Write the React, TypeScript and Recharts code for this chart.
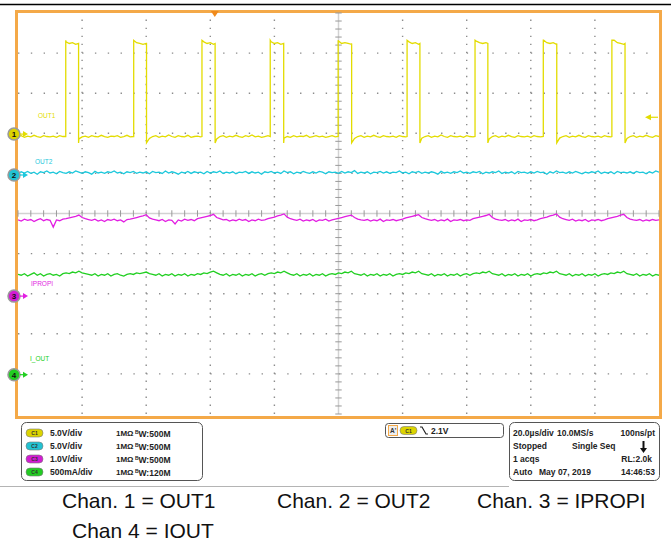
import { Line, LineChart, ReferenceDot, ReferenceLine, XAxis, YAxis } from "recharts";

// screen: 10 div x 10 div, 20 us/div
const xMajor = [0, 20, 40, 60, 80, 100, 120, 140, 160, 180, 200];
const yMajor = [-5, -4, -3, -2, -1, 0, 1, 2, 3, 4, 5];
const xMinor = Array.from({ length: 51 }, (_, i) => i * 4);
const yMinor = Array.from({ length: 51 }, (_, i) => -5 + i * 0.2);

const SAMPLE_US = 1;

// OUT1 pulse edges (us from left edge of screen)
const out1Rise = [14.9, 36.1, 57.4, 78.7, 99.9, 121.4, 142.6, 163.9, 185.3];
const out1Fall = [18.9, 40.1, 61.5, 82.9, 104.1, 125.4, 146.6, 168.1, 189.4];
const OUT1_LOW = -0.3;
const OUT1_PEAK = 11.7;
const OUT1_TOP = 11.3;
const OUT1_DIP = -1.1;

// sampled traces, 1 us apart (V, V, V, A)
const out1 = [
  -0.3, -0.2, -0.4, -0.25, -0.35, -0.15, -0.3, -0.4, -0.2, -0.3,
  -0.35, -0.25, -0.4, -0.2, -0.3, 11.5, 11.3, 11.4, 11.2, -0.6,
  -0.35, -0.25, -0.4, -0.2, -0.3, -0.35, -0.15, -0.3, -0.4, -0.25,
  -0.3, -0.2, -0.4, -0.3, -0.15, -0.35, -0.3, 11.4, 11.3, 11.2,
  11.3, -0.55, -0.3, -0.2, -0.4, -0.25, -0.35, -0.1, -0.3, -0.4,
  -0.2, -0.3, -0.35, -0.15, -0.4, -0.3, -0.25, -0.35, 11.5, 11.3,
  11.4, 11.2, -0.6, -0.3, -0.2, -0.4, -0.25, -0.35, -0.15, -0.3,
  -0.4, -0.2, -0.3, -0.1, -0.35, -0.25, -0.4, -0.3, -0.2, 11.5,
  11.3, 11.4, 11.2, -0.5, -0.3, -0.4, -0.2, -0.35, -0.25, -0.3,
  -0.15, -0.4, -0.3, -0.2, -0.35, -0.25, -0.4, -0.3, -0.2, -0.35,
  11.6, 11.3, 11.4, 11.3, 11.2, -0.55, -0.3, -0.2, -0.4, -0.25,
  -0.35, -0.15, -0.3, -0.4, -0.2, -0.3, -0.35, -0.25, -0.4, -0.2,
  -0.3, -0.35, 11.5, 11.3, 11.4, 11.2, -0.5, -0.3, -0.2, -0.4,
  -0.25, -0.35, -0.1, -0.3, -0.4, -0.2, -0.3, -0.35, -0.25, -0.4,
  -0.2, -0.3, -0.35, 11.6, 11.4, 11.3, 11.4, -0.6, -0.3, -0.2,
  -0.4, -0.25, -0.35, -0.15, -0.3, -0.4, -0.2, -0.3, -0.35, -0.25,
  -0.4, -0.2, -0.3, -0.35, 11.7, 11.4, 11.3, 11.4, 11.2, -0.5,
  -0.3, -0.2, -0.4, -0.25, -0.35, -0.15, -0.3, -0.4, -0.2, -0.3,
  -0.35, -0.25, -0.4, -0.2, -0.3, -0.35, 11.7, 11.4, 11.3, 11.2,
  -0.55, -0.3, -0.2, -0.4, -0.25, -0.35, -0.15, -0.3, -0.4, -0.2, -0.3,
];

const out2 = [
  0.15, 0.4, 0.25, 0.45, 0.2, 0.35, 0.1, 0.4, 0.3, 0.5,
  0.25, 0.35, 0.15, 0.45, 0.3, 0.2, 0.4, 0.25, 0.5, 0.35,
  0.2, 0.4, 0.3, 0.1, 0.45, 0.25, 0.35, 0.2, 0.4, 0.3,
  0.5, 0.25, 0.35, 0.15, 0.4, 0.3, 0.45, 0.2, 0.35, 0.25,
  0.4, 0.15, 0.45, 0.3, 0.35, 0.2, 0.5, 0.25, 0.4, 0.3,
  0.1, 0.35, 0.25, 0.45, 0.2, 0.4, 0.3, 0.35, 0.15, 0.45,
  0.25, 0.4, 0.3, 0.5, 0.2, 0.35, 0.25, 0.4, 0.15, 0.35,
  0.3, 0.45, 0.2, 0.4, 0.25, 0.35, 0.1, 0.4, 0.3, 0.45,
  0.25, 0.35, 0.2, 0.5, 0.3, 0.4, 0.15, 0.35, 0.25, 0.45,
  0.3, 0.2, 0.4, 0.25, 0.45, 0.35, 0.15, 0.4, 0.3, 0.35,
  0.2, 0.45, 0.25, 0.4, 0.3, 0.55, 0.2, 0.35, 0.25, 0.4,
  0.15, 0.35, 0.3, 0.45, 0.25, 0.4, 0.2, 0.35, 0.3, 0.5,
  0.25, 0.35, 0.15, 0.4, 0.3, 0.45, 0.2, 0.35, 0.25, 0.4,
  0.3, 0.1, 0.45, 0.25, 0.35, 0.2, 0.4, 0.3, 0.5, 0.25,
  0.35, 0.2, 0.4, 0.3, 0.45, 0.15, 0.35, 0.25, 0.4, 0.3,
  0.5, 0.2, 0.35, 0.25, 0.4, 0.15, 0.45, 0.3, 0.35, 0.2,
  0.4, 0.25, 0.45, 0.3, 0.35, 0.1, 0.4, 0.25, 0.5, 0.3,
  0.35, 0.2, 0.4, 0.25, 0.45, 0.3, 0.15, 0.35, 0.25, 0.4,
  0.3, 0.5, 0.2, 0.35, 0.25, 0.4, 0.15, 0.45, 0.3, 0.35,
  0.25, 0.4, 0.2, 0.45, 0.3, 0.35, 0.15, 0.4, 0.25, 0.5, 0.35,
];

const ipropi = [
  1.9, 1.87, 1.92, 1.89, 1.91, 1.86, 1.9, 1.93, 1.88, 1.91,
  1.89, 1.72, 1.9, 1.88, 1.92, 1.93, 1.95, 1.97, 1.99, 2.02,
  1.96, 1.93, 1.91, 1.89, 1.92, 1.87, 1.9, 1.86, 1.91, 1.89,
  1.92, 1.88, 1.9, 1.85, 1.91, 1.92, 1.94, 1.96, 1.98, 2.0,
  2.03, 1.95, 1.92, 1.9, 1.88, 1.91, 1.86, 1.9, 1.89, 1.8,
  1.9, 1.87, 1.92, 1.89, 1.91, 1.88, 1.93, 1.95, 1.97, 1.99,
  2.01, 2.04, 1.96, 1.93, 1.9, 1.91, 1.87, 1.9, 1.88, 1.92,
  1.89, 1.91, 1.86, 1.9, 1.88, 1.92, 1.89, 1.9, 1.93, 1.95,
  1.97, 2.0, 2.02, 2.05, 1.97, 1.93, 1.91, 1.89, 1.92, 1.87,
  1.9, 1.88, 1.91, 1.86, 1.9, 1.89, 1.92, 1.87, 1.9, 1.92,
  1.94, 1.96, 1.98, 2.0, 2.02, 1.96, 1.92, 1.9, 1.89, 1.91,
  1.87, 1.9, 1.88, 1.92, 1.86, 1.9, 1.89, 1.91, 1.88, 1.9,
  1.92, 1.95, 1.97, 1.99, 2.01, 2.03, 1.96, 1.93, 1.91, 1.89,
  1.91, 1.87, 1.9, 1.88, 1.92, 1.86, 1.9, 1.89, 1.91, 1.88,
  1.9, 1.89, 1.93, 1.95, 1.97, 1.99, 2.01, 2.04, 1.96, 1.92,
  1.9, 1.89, 1.91, 1.87, 1.9, 1.88, 1.92, 1.86, 1.9, 1.89,
  1.91, 1.88, 1.9, 1.93, 1.95, 1.97, 2.0, 2.02, 2.05, 1.97,
  1.93, 1.91, 1.89, 1.92, 1.87, 1.9, 1.88, 1.91, 1.86, 1.9,
  1.89, 1.91, 1.88, 1.9, 1.93, 1.95, 1.97, 1.99, 2.02, 2.04,
  1.96, 1.92, 1.9, 1.89, 1.91, 1.87, 1.9, 1.88, 1.91, 1.89, 1.9,
];

const iout = [
  1.25, 1.24, 1.26, 1.23, 1.25, 1.27, 1.24, 1.26, 1.23, 1.25,
  1.26, 1.24, 1.25, 1.23, 1.26, 1.27, 1.26, 1.28, 1.27, 1.29,
  1.27, 1.26, 1.25, 1.24, 1.26, 1.23, 1.25, 1.24, 1.26, 1.23,
  1.25, 1.26, 1.24, 1.23, 1.25, 1.26, 1.25, 1.27, 1.26, 1.27,
  1.28, 1.26, 1.25, 1.24, 1.26, 1.23, 1.25, 1.24, 1.26, 1.23,
  1.25, 1.24, 1.26, 1.23, 1.25, 1.24, 1.26, 1.25, 1.27, 1.26,
  1.28, 1.29, 1.27, 1.25, 1.24, 1.26, 1.23, 1.25, 1.24, 1.26,
  1.23, 1.25, 1.24, 1.26, 1.23, 1.25, 1.26, 1.24, 1.26, 1.27,
  1.26, 1.28, 1.27, 1.29, 1.27, 1.25, 1.24, 1.26, 1.23, 1.25,
  1.24, 1.26, 1.23, 1.25, 1.24, 1.26, 1.23, 1.25, 1.26, 1.25,
  1.27, 1.26, 1.28, 1.27, 1.29, 1.26, 1.25, 1.24, 1.26, 1.23,
  1.25, 1.24, 1.26, 1.23, 1.25, 1.24, 1.26, 1.23, 1.25, 1.26,
  1.25, 1.27, 1.26, 1.28, 1.27, 1.29, 1.26, 1.25, 1.24, 1.26,
  1.23, 1.25, 1.24, 1.26, 1.23, 1.25, 1.24, 1.26, 1.23, 1.25,
  1.26, 1.24, 1.26, 1.27, 1.26, 1.28, 1.27, 1.29, 1.26, 1.25,
  1.24, 1.26, 1.23, 1.25, 1.24, 1.26, 1.23, 1.25, 1.24, 1.26,
  1.23, 1.25, 1.26, 1.25, 1.27, 1.26, 1.28, 1.27, 1.29, 1.26,
  1.25, 1.24, 1.26, 1.23, 1.25, 1.24, 1.26, 1.23, 1.25, 1.24,
  1.26, 1.23, 1.25, 1.26, 1.25, 1.27, 1.26, 1.28, 1.27, 1.29,
  1.26, 1.25, 1.24, 1.26, 1.23, 1.25, 1.24, 1.26, 1.23, 1.25, 1.24,
];

// scope channel setup (offset in divisions from center)
const channels = [
  { id: 1, name: "OUT1", color: "#e3dc00", pill: "#dcd400", scale: 5, scaleText: "5.0V/div", bw: "500M", offset: 1.98, lx: 20, ly: -16 },
  { id: 2, name: "OUT2", color: "#1cc8dc", pill: "#22c2d2", scale: 5, scaleText: "5.0V/div", bw: "500M", offset: 0.96, lx: 17, ly: -11 },
  { id: 3, name: "IPROPI", color: "#e21ee2", pill: "#d21cd2", scale: 1, scaleText: "1.0V/div", bw: "500M", offset: -2.06, lx: 13, ly: -10 },
  { id: 4, name: "I_OUT", color: "#22cf22", pill: "#22cc22", scale: 0.5, scaleText: "500mA/div", bw: "120M", offset: -4.02, lx: 12, ly: -14 },
];

const TRIGGER_T = 61.4;
const TRIGGER_LEVEL = 2.1;

// acquisition box: [text, x, anchor] per row
const acqRows = [
  [["20.0µs/div", 513, "start"], ["10.0MS/s", 557, "start"], ["100ns/pt", 655, "end"]],
  [["Stopped", 513, "start"], ["Single Seq", 572, "start"]],
  [["1 acqs", 513, "start"], ["RL:2.0k", 652, "end"]],
  [["Auto", 513, "start"], ["May 07, 2019", 539, "start"], ["14:46:53", 655, "end"]],
] as const;

const captions = [
  { text: "Chan. 1 = OUT1", x: 62, y: 508 },
  { text: "Chan. 2 = OUT2", x: 277, y: 508 },
  { text: "Chan. 3 = IPROPI", x: 477, y: 508 },
  { text: "Chan 4 = IOUT", x: 72, y: 538 },
];

const toPos = (v: number, ch: (typeof channels)[number]) => ch.offset + v / ch.scale;

const sampled = (vals: number[], ch: (typeof channels)[number]) =>
  vals.map((v, i) => ({ t: i * SAMPLE_US, pos: toPos(v, ch) }));

function out1Series() {
  const ch = channels[0];
  const pts = out1.map((v, i) => ({ t: i * SAMPLE_US, v }));
  out1Rise.forEach((r) => {
    pts.push({ t: r, v: OUT1_LOW }, { t: r, v: OUT1_PEAK });
  });
  out1Fall.forEach((f) => {
    pts.push({ t: f, v: OUT1_TOP }, { t: f, v: OUT1_DIP });
  });
  return pts.sort((a, b) => a.t - b.t).map((p) => ({ t: p.t, pos: toPos(p.v, ch) }));
}

const series = [
  out1Series(),
  sampled(out2, channels[1]),
  sampled(ipropi, channels[2]),
  sampled(iout, channels[3]),
];

const FONT = "'Liberation Sans', Arial, sans-serif";
const ORANGE = "#f4a948";
const GRID = "#8c8c8c";

function ChannelTag(props: any) {
  const { cx, cy, ch } = props;
  return (
    <g>
      <circle cx={cx - 4} cy={cy} r={6} fill={ch.pill} stroke="#9a9a9a" strokeWidth={1.5} />
      <text x={cx - 4} y={cy + 3} textAnchor="middle" fontSize={8} fontWeight={700} fontFamily={FONT} fill="#111">
        {ch.id}
      </text>
      <line x1={cx + 2} y1={cy} x2={cx + 6} y2={cy} stroke={ch.color} strokeWidth={1.2} />
      <path d={`M${cx + 5},${cy - 3} L${cx + 10},${cy} L${cx + 5},${cy + 3} Z`} fill={ch.color} />
      <text x={cx + ch.lx} y={cy + ch.ly} fontSize={6.5} fontFamily={FONT} fill={ch.color}>
        {ch.name}
      </text>
    </g>
  );
}

function LevelArrow(props: any) {
  const { cx, cy } = props;
  return (
    <g>
      <line x1={cx - 8} y1={cy} x2={cx - 1} y2={cy} stroke={channels[0].color} strokeWidth={1.2} />
      <path d={`M${cx - 14},${cy} L${cx - 8},${cy - 3} L${cx - 8},${cy + 3} Z`} fill={channels[0].color} />
    </g>
  );
}

function TriggerMark(props: any) {
  const { cx, cy } = props;
  return <path d={`M${cx - 4},${cy - 2} L${cx + 4},${cy - 2} L${cx},${cy + 4} Z`} fill="#f08a1c" />;
}

function Pill({ x, y, color, label }: { x: number; y: number; color: string; label: string }) {
  return (
    <g>
      <rect x={x} y={y - 4} width={17} height={8} rx={4} fill={color} stroke="#7a7a7a" strokeWidth={0.6} />
      <text x={x + 8.5} y={y + 2} textAnchor="middle" fontSize={5} fontWeight={700} fontFamily={FONT} fill="#333">
        {label}
      </text>
    </g>
  );
}

function Overlay() {
  const rowY = [433, 446, 459, 472];
  const txt = { fontSize: 8.5, fontWeight: 700, fontFamily: FONT, fill: "#222" } as const;
  return (
    <svg width={671} height={544} style={{ position: "absolute", left: 0, top: 0, pointerEvents: "none" }}>
      <line x1={0} y1={4.5} x2={671} y2={4.5} stroke="#000" strokeWidth={1.6} />
      <line x1={0} y1={486.5} x2={509} y2={486.5} stroke="#b4b4b4" strokeWidth={1} />

      {/* channel settings */}
      <rect x={21.5} y={422.5} width={181} height={58} rx={5} fill="#fff" stroke="#555" strokeWidth={1} />
      {channels.map((ch, i) => (
        <g key={ch.id}>
          <Pill x={26} y={rowY[i]} color={ch.pill} label={"C" + ch.id} />
          <text x={50} y={rowY[i] + 3} {...txt}>
            {ch.scaleText}
          </text>
          <text x={116} y={rowY[i] + 3} {...txt} fontSize={8}>
            1MΩ
          </text>
          <text x={135} y={rowY[i] + 1} {...txt} fontSize={5}>
            B
          </text>
          <text x={138.5} y={rowY[i] + 4} {...txt}>
            {"W:" + ch.bw}
          </text>
        </g>
      ))}

      {/* trigger */}
      <rect x={385.5} y={423.5} width={118} height={14} rx={3} fill="#fff" stroke="#555" strokeWidth={1} />
      <rect x={388.5} y={425.5} width={9} height={10} fill="#eee" stroke={ORANGE} strokeWidth={1} />
      <text x={390} y={433} fontSize={6.5} fontWeight={700} fontFamily={FONT} fill="#333">
        A'
      </text>
      <Pill x={400} y={430.5} color={channels[0].pill} label="C1" />
      <path d="M420,427 L422,427 L426,434 L428,434" fill="none" stroke="#222" strokeWidth={1.2} />
      <text x={431} y={433.5} {...txt}>
        {TRIGGER_LEVEL.toFixed(1) + "V"}
      </text>

      {/* acquisition */}
      <rect x={509.5} y={422.5} width={150} height={58} rx={5} fill="#fff" stroke="#555" strokeWidth={1} />
      {acqRows.map((row, i) =>
        row.map(([s, x, anchor]) => (
          <text key={s} x={x} y={rowY[i] + 3} textAnchor={anchor} {...txt}>
            {s}
          </text>
        ))
      )}
      <line x1={643.5} y1={441} x2={643.5} y2={449} stroke="#111" strokeWidth={2} />
      <path d="M640,448 L647,448 L643.5,453 Z" fill="#111" />

      {captions.map((c) => (
        <text key={c.text} x={c.x} y={c.y} fontSize={21} fontFamily={FONT} fill="#111">
          {c.text}
        </text>
      ))}
    </svg>
  );
}

export default function App() {
  const inner = xMajor.slice(1, -1).filter((x) => x !== 100);
  const innerY = yMajor.slice(1, -1).filter((y) => y !== 0);
  return (
    <div style={{ position: "absolute", left: 0, top: 0, width: 671, height: 544, background: "#fff" }}>
      <div
        style={{
          position: "absolute",
          left: 15,
          top: 10,
          width: 647,
          height: 409,
          border: `3px solid ${ORANGE}`,
          boxSizing: "border-box",
        }}
      />
      <LineChart width={671} height={544} margin={{ top: 13, right: 12, bottom: 130, left: 18 }} style={{ position: "absolute", left: 0, top: 0 }}>
        <XAxis
          dataKey="t"
          type="number"
          domain={[0, 200]}
          allowDataOverflow
          ticks={xMinor}
          tick={false}
          tickSize={4}
          mirror
          height={0}
          axisLine={{ stroke: "#333", strokeWidth: 2 }}
          tickLine={{ stroke: "#888" }}
        />
        <XAxis
          xAxisId="top"
          orientation="top"
          dataKey="t"
          type="number"
          domain={[0, 200]}
          allowDataOverflow
          ticks={xMinor}
          tick={false}
          tickSize={4}
          mirror
          height={0}
          axisLine={false}
          tickLine={{ stroke: "#999" }}
        />
        <YAxis
          type="number"
          domain={[-5, 5]}
          allowDataOverflow
          ticks={yMinor}
          tick={false}
          tickSize={4}
          mirror
          width={0}
          axisLine={false}
          tickLine={{ stroke: "#999" }}
        />
        <YAxis
          yAxisId="right"
          orientation="right"
          type="number"
          domain={[-5, 5]}
          allowDataOverflow
          ticks={yMinor}
          tick={false}
          tickSize={4}
          mirror
          width={0}
          axisLine={false}
          tickLine={{ stroke: "#999" }}
        />

        {inner.map((x) => (
          <ReferenceLine key={"gx" + x} x={x} stroke={GRID} strokeWidth={1.4} strokeDasharray="1.4 6.62" />
        ))}
        {innerY.map((y) => (
          <ReferenceLine key={"gy" + y} y={y} stroke={GRID} strokeWidth={1.4} strokeDasharray="1.4 11.42" />
        ))}
        <ReferenceLine x={100} stroke="#d2d2d2" strokeWidth={1.5} />
        <ReferenceLine y={0} stroke="#d2d2d2" strokeWidth={1.5} />
        {yMinor.map((y) => (
          <ReferenceLine key={"cy" + y} segment={[{ x: 99, y }, { x: 101, y }]} stroke="#999" />
        ))}
        {xMinor.map((x) => (
          <ReferenceLine key={"cx" + x} segment={[{ x, y: -0.08 }, { x, y: 0.08 }]} stroke="#999" />
        ))}

        {channels
          .map((ch, i) => (
            <Line
              key={ch.id}
              data={series[i]}
              dataKey="pos"
              type="linear"
              stroke={ch.color}
              strokeWidth={1.3}
              dot={false}
              activeDot={false}
              isAnimationActive={false}
            />
          ))
          .reverse()}

        {channels.map((ch) => (
          <ReferenceDot key={"m" + ch.id} x={0} y={ch.offset} shape={(p: any) => <ChannelTag {...p} ch={ch} />} />
        ))}
        <ReferenceDot x={200} y={toPos(TRIGGER_LEVEL, channels[0])} shape={(p: any) => <LevelArrow {...p} />} />
        <ReferenceDot x={TRIGGER_T} y={5} shape={(p: any) => <TriggerMark {...p} />} />
      </LineChart>
      <Overlay />
    </div>
  );
}
